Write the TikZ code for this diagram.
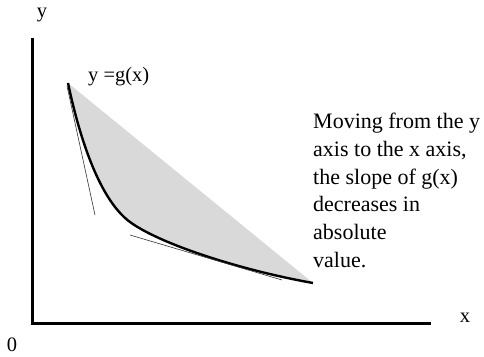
\documentclass[tikz,border=0pt]{standalone}
\usepackage{fontspec}
\setmainfont{Liberation Serif}
\begin{document}
\begin{tikzpicture}[x=1pt,y=-1pt,
  axis/.style={line width=3pt},
  curve/.style={line width=2.4pt},
  tangent/.style={line width=0.6pt, black!80},
  lbl/.style={font=\fontsize{20.5}{24}\selectfont, inner sep=0pt}]
\useasboundingbox (0,0) rectangle (484,356);
\coordinate (O) at (32,323);
\coordinate (Ytop) at (32,38);
\coordinate (Xend) at (431,323);
\coordinate (A) at (68,83);
\coordinate (M) at (130,222);
\coordinate (B) at (313,283);
\fill[gray!30] (A) .. controls (80,140) and (100,200) .. (M)
  .. controls (160,244) and (240,270) .. (B) -- cycle;
\draw[curve] (A) .. controls (80,140) and (100,200) .. (M)
  .. controls (160,244) and (240,270) .. (B);
\coordinate (t1a) at (67,86);
\coordinate (t1b) at (95,215);
\coordinate (t2a) at (130,235);
\coordinate (t2b) at (282,280);
\draw[tangent] (t1a) -- (t1b);
\draw[tangent] (t2a) -- (t2b);
\draw[axis] (Ytop) -- (O) -- (Xend);
\node[lbl] (ylab) at (42,15) {y};
\node[lbl] (xlab) at (465,318) {x};
\node[lbl] (zero) at (12,345) {0};
\node[lbl, anchor=west] (glab) at (88,77) {y =g(x)};
\node[lbl, anchor=north west, align=left, font=\fontsize{22}{27.7}\selectfont] (note) at (313,113)
  {Moving from the y\\axis to the x axis,\\the slope of g(x)\\decreases in\\absolute\\value.};
\end{tikzpicture}
\end{document}
